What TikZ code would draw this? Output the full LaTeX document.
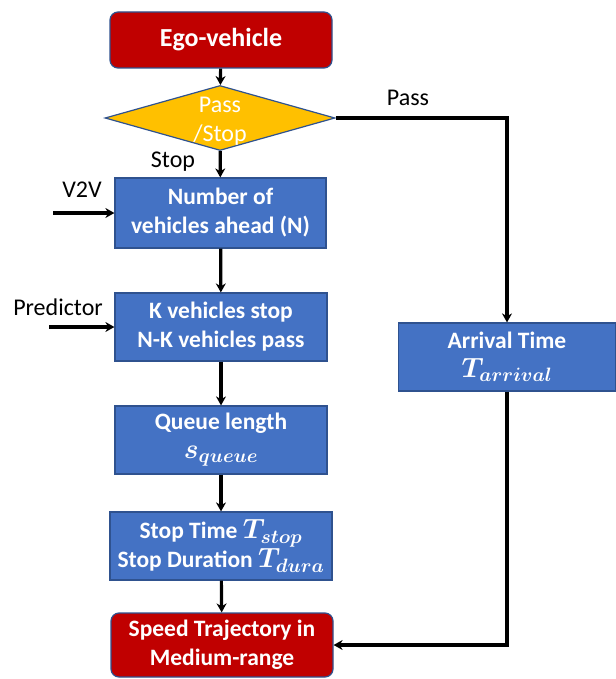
\documentclass[tikz,border=0pt]{standalone}
\usepackage{fontspec}
\setmainfont{Carlito}
\usetikzlibrary{shapes.geometric,arrows.meta}
\definecolor{bxblue}{HTML}{4472C4}
\definecolor{bxborder}{HTML}{2F528F}
\definecolor{bxred}{HTML}{C00000}
\definecolor{bxorange}{HTML}{FFC000}
\newcommand{\mymath}[1]{\scalebox{1.12}{$\boldsymbol{#1}$}}
\tikzset{
  box/.style={draw=bxborder, line width=1.2pt, fill=bxblue, text=white, align=center,
    font=\bfseries\fontsize{23.5}{29}\selectfont, inner sep=0pt},
  redbox/.style={box, fill=bxred, rounded corners=8pt},
  decision/.style={diamond, draw=bxborder, line width=1.2pt, fill=bxorange, inner sep=0pt},
  lbl/.style={font=\fontsize{24}{29}\selectfont, text=black, inner sep=0pt},
  conn/.style={line width=3.2pt, -{Stealth[length=9pt,width=10pt]}},
}
\usepackage{amsmath}
\begin{document}
\begin{tikzpicture}[x=1pt,y=-1pt]
\useasboundingbox (0,0) rectangle (615,679);
% nodes
\node[redbox, minimum width=222pt, minimum height=56pt, font=\bfseries\fontsize{26}{30}\selectfont] (ego) at (221,40) {Ego-vehicle};
\node[decision, minimum width=230pt, minimum height=65pt] (dec) at (220,118) {};
\node[lbl, text=white, align=center] (dectxt) at (220,121) {Pass\\/Stop};
\node[box, minimum width=211pt, minimum height=70pt] (nbox) at (220.5,213) {Number of\\vehicles ahead (N)};
\node[box, minimum width=212pt, minimum height=68pt] (kbox) at (221,327) {K vehicles stop\\N-K vehicles pass};
\node[box, minimum width=212pt, minimum height=68pt] (qbox) at (221,440) {Queue length\\\mymath{s_{queue}}};
\node[box, minimum width=222pt, minimum height=68pt] (sbox) at (221,546) {Stop Time \mymath{T_{stop}}\\Stop Duration \mymath{T_{dura}}};
\node[redbox, minimum width=222pt, minimum height=64pt] (speed) at (222,645) {Speed Trajectory in\\Medium-range};
\node[box, minimum width=217pt, minimum height=68pt] (arr) at (507,357) {Arrival Time\\\mymath{T_{arrival}}};
% labels
\node[lbl] (passlbl) at (408,98) {Pass};
\node[lbl] (stoplbl) at (173,162) {Stop};
\node[lbl] (v2vlbl) at (82,190) {V2V};
\node[lbl] (predlbl) at (58,307) {Predictor};
% free ends
\coordinate (v2vin) at (53,213);
\coordinate (predin) at (49,327);
\coordinate (c1) at (arr.north |- dec.east);
\coordinate (c2) at (arr.south |- speed.east);
% connectors
\draw[conn] (ego) -- (dec);
\draw[conn] (dec) -- (nbox);
\draw[conn] (nbox) -- (kbox);
\draw[conn] (kbox) -- (qbox);
\draw[conn] (qbox) -- (sbox);
\draw[conn] (sbox) -- (speed);
\draw[conn] (v2vin) -- (nbox.west |- v2vin);
\draw[conn] (predin) -- (kbox.west |- predin);
\draw[conn] (dec.east) -- (c1) -- (arr.north);
\draw[conn] (arr.south) -- (c2) -- (speed.east);
\end{tikzpicture}
\end{document}
